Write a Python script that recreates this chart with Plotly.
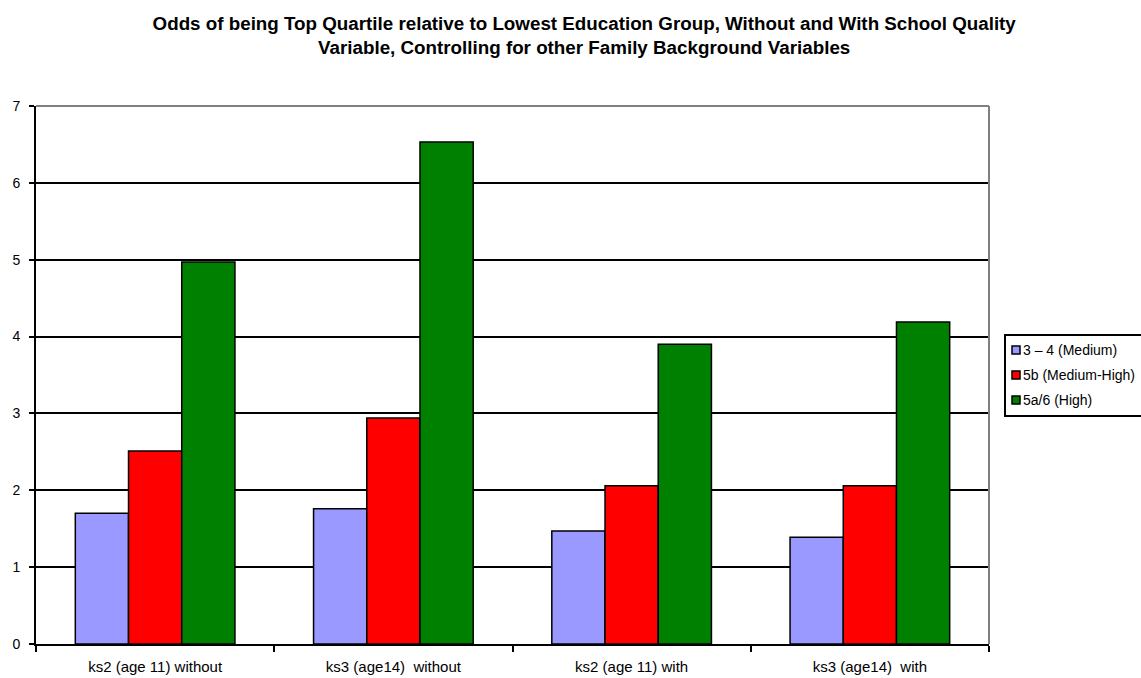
import plotly.graph_objects as go

categories = ["ks2 (age 11) without", "ks3 (age14)  without", "ks2 (age 11) with", "ks3 (age14)  with"]
medium = [1.70, 1.76, 1.47, 1.39]
medium_high = [2.51, 2.94, 2.06, 2.06]
high = [4.97, 6.53, 3.90, 4.19]
series_names = ["3 \u2013 4 (Medium)", "5b (Medium-High)", "5a/6 (High)"]
colors = ["#9999FF", "#FF0000", "#008000"]

W, H = 1141, 678
L, R, T, B = 36, 152, 106, 34
PW, PH = W - L - R, H - T - B


def px_x(p):
    return (p - L) / PW


def px_y(p):
    return (H - B - p) / PH


fig = go.Figure()
for name, vals, col in zip(series_names, [medium, medium_high, high], colors):
    fig.add_trace(go.Bar(
        x=categories, y=vals, name=name, showlegend=False,
        marker=dict(color=col, line=dict(color="black", width=1.5)),
    ))

shapes = [
    dict(type="line", xref="paper", yref="paper", x0=0, x1=1, y0=1, y1=1,
         line=dict(color="#808080", width=2), layer="below"),
    dict(type="line", xref="paper", yref="paper", x0=1, x1=1, y0=0, y1=1,
         line=dict(color="#808080", width=2)),
    # legend box
    dict(type="rect", xref="paper", yref="paper",
         x0=px_x(1005), x1=px_x(1145), y0=px_y(416), y1=px_y(335),
         line=dict(color="black", width=2), fillcolor="white"),
]
annotations = []
for i, (name, col) in enumerate(zip(series_names, colors)):
    cy = 350 + 25 * i
    shapes.append(dict(type="rect", xref="paper", yref="paper",
                       x0=px_x(1012), x1=px_x(1020), y0=px_y(cy + 4), y1=px_y(cy - 4),
                       line=dict(color="black", width=1.5), fillcolor=col))
    annotations.append(dict(xref="paper", yref="paper", x=px_x(1021), y=px_y(cy),
                            xanchor="left", yanchor="middle", showarrow=False,
                            text=name, font=dict(size=14, color="black")))

fig.update_layout(
    width=W, height=H,
    margin=dict(l=L, r=R, t=T, b=B, autoexpand=False),
    paper_bgcolor="white", plot_bgcolor="white",
    barmode="group", bargap=0.33, bargroupgap=0,
    font=dict(family="Liberation Sans, Arial, sans-serif", size=12, color="black"),
    title=dict(
        text="<b>Odds of being Top Quartile relative to Lowest Education Group, Without and With School Quality<br>Variable, Controlling for other Family Background Variables</b>",
        x=0.512, xanchor="center", y=1 - 30/678, yanchor="middle",
        font=dict(size=18.8, color="black"),
    ),
    xaxis=dict(
        showline=True, linecolor="black", linewidth=2,
        ticks="outside", tickson="boundaries", ticklen=6, tickcolor="black", tickwidth=1.5,
        showgrid=False, tickfont=dict(size=15), automargin=False,
        ticklabelstandoff=8,
    ),
    yaxis=dict(
        range=[0, 7], dtick=1,
        showline=True, linecolor="black", linewidth=2,
        ticks="outside", ticklen=5, tickcolor="black", tickwidth=1.5,
        showgrid=True, gridcolor="black", gridwidth=2, zeroline=False,
        tickfont=dict(size=14), automargin=False, ticklabelstandoff=6,
    ),
    shapes=shapes,
    annotations=annotations,
)

fig.write_html("out.html")
